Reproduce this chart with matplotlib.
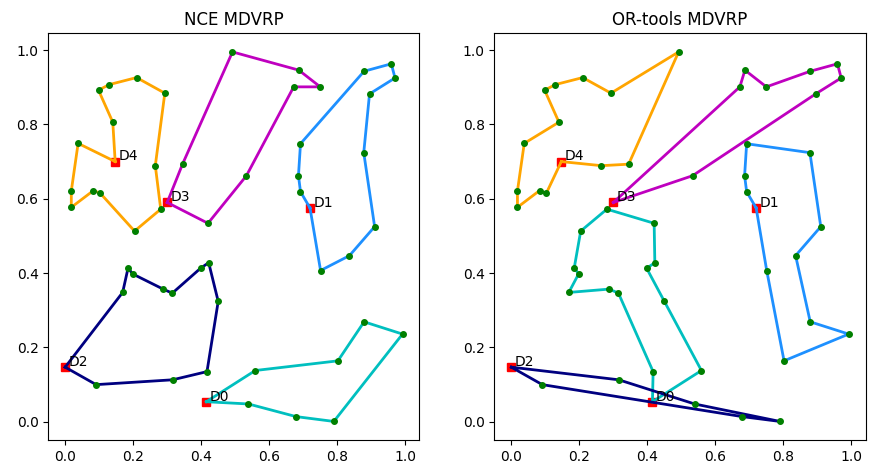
import matplotlib
matplotlib.use('Agg')
import matplotlib.pyplot as plt
import numpy as np

# depot coordinates
depot_names = ['D0', 'D1', 'D2', 'D3', 'D4']
depot_x = [0.415, 0.720, 0.000, 0.300, 0.147]
depot_y = [0.054, 0.575, 0.147, 0.590, 0.700]
route_colors = ['c', 'dodgerblue', 'navy', 'm', 'orange']

# customer coordinates
cust_x = [0.038, 0.018, 0.018, 0.083, 0.103, 0.204, 0.281, 0.265, 0.293, 0.210,
          0.129, 0.098, 0.140, 0.345, 0.492, 0.687, 0.750, 0.672, 0.533, 0.420,
          0.692, 0.686, 0.692, 0.879, 0.959, 0.970, 0.895, 0.878, 0.910, 0.836,
          0.751, 0.091, 0.316, 0.417, 0.450, 0.422, 0.398, 0.315, 0.288, 0.198,
          0.185, 0.169, 0.559, 0.802, 0.879, 0.992, 0.790, 0.679, 0.539]
cust_y = [0.749, 0.621, 0.577, 0.622, 0.615, 0.513, 0.572, 0.689, 0.884, 0.926,
          0.907, 0.892, 0.806, 0.693, 0.995, 0.946, 0.901, 0.901, 0.662, 0.534,
          0.619, 0.662, 0.748, 0.943, 0.963, 0.925, 0.882, 0.724, 0.525, 0.447,
          0.407, 0.100, 0.113, 0.135, 0.324, 0.428, 0.413, 0.346, 0.357, 0.398,
          0.414, 0.348, 0.138, 0.164, 0.269, 0.236, 0.001, 0.014, 0.048]

# routes per depot (customer indices), D0..D4
nce_routes = [
    [42, 43, 44, 45, 46, 47, 48],
    [20, 21, 22, 23, 24, 25, 26, 27, 28, 29, 30],
    [31, 32, 33, 34, 35, 36, 37, 38, 39, 40, 41],
    [13, 14, 15, 16, 17, 18, 19],
    [0, 1, 2, 3, 4, 5, 6, 7, 8, 9, 10, 11, 12],
]
ortools_routes = [
    [33, 37, 38, 41, 39, 40, 5, 6, 19, 35, 36, 34, 42],
    [20, 21, 22, 27, 28, 29, 44, 45, 43, 30],
    [32, 48, 46, 47, 31],
    [18, 26, 25, 24, 23, 16, 15, 17],
    [7, 13, 14, 8, 9, 10, 11, 12, 0, 1, 2, 3, 4],
]

cust_x = np.array(cust_x)
cust_y = np.array(cust_y)

fig = plt.figure(figsize=(8.69, 4.71), dpi=100)
ax1 = fig.add_axes([0.0556, 0.066, 0.427, 0.863])
ax2 = fig.add_axes([0.569, 0.066, 0.427, 0.863])


def draw(ax, routes, title):
    # depots
    ax.plot(depot_x, depot_y, 's', color='red', markersize=6, zorder=2)
    for d in range(len(depot_names)):
        ax.text(depot_x[d] + 0.01, depot_y[d] + 0.003, depot_names[d], fontsize=10, zorder=5)
    for d, r in enumerate(routes):
        xs = [depot_x[d]] + list(cust_x[r]) + [depot_x[d]]
        ys = [depot_y[d]] + list(cust_y[r]) + [depot_y[d]]
        ax.plot(xs, ys, '-', color=route_colors[d], linewidth=2, zorder=3)
    ax.plot(cust_x, cust_y, 'o', color='green', markersize=4, zorder=4)
    ax.set_title(title)


draw(ax1, nce_routes, "NCE MDVRP")
draw(ax2, ortools_routes, "OR-tools MDVRP")

plt.savefig('out.png', dpi=100)
